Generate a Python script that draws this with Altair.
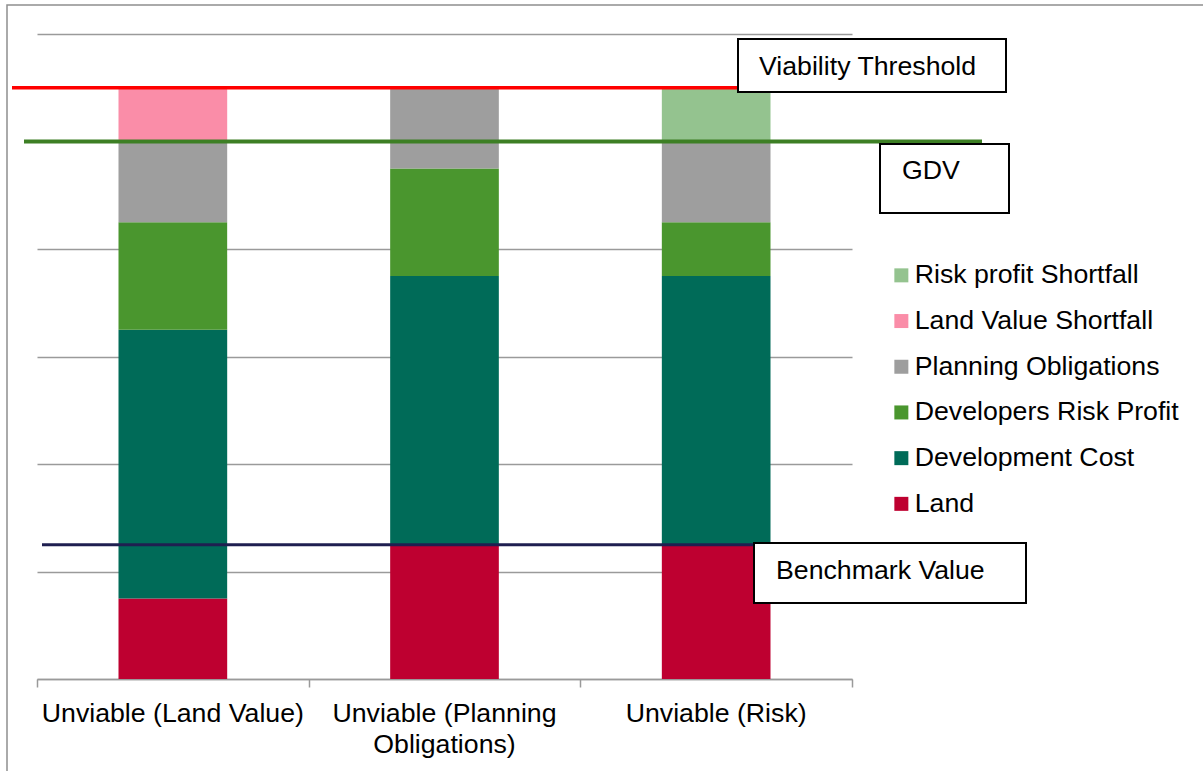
import altair as alt
import pandas as pd

FONT = "Liberation Sans"
FS = 26.7

# ---- data ----
categories = ["Unviable (Land Value)", "Unviable (Planning\nObligations)", "Unviable (Risk)"]
category_centers = [0.5, 1.5, 2.5]
x_boundaries = [0, 1, 2, 3]
y_ticks = [0, 100, 200, 300, 400, 500, 600]

stack_order = ["Land", "Development Cost", "Developers Risk Profit",
               "Planning Obligations", "Land Value Shortfall", "Risk profit Shortfall"]
land = [75, 125, 125]
development_cost = [250, 250, 250]
developers_risk_profit = [100, 100, 50]
planning_obligations = [75, 75, 75]
land_value_shortfall = [50, 0, 0]
risk_profit_shortfall = [0, 0, 50]

legend_order = ["Risk profit Shortfall", "Land Value Shortfall", "Planning Obligations",
                "Developers Risk Profit", "Development Cost", "Land"]
legend_colors = ["#94C38F", "#FA8DA8", "#9E9E9E", "#4A962E", "#006B58", "#BE0030"]

viability_threshold = 550
gdv = 500
benchmark_value = 125

# ---- tables ----
series = [land, development_cost, developers_risk_profit,
          planning_obligations, land_value_shortfall, risk_profit_shortfall]
rows = []
for i, cat in enumerate(categories):
    for j, comp in enumerate(stack_order):
        v = series[j][i]
        if v > 0:
            rows.append({"cat": cat, "center": category_centers[i], "component": comp,
                         "order": j, "value": v})
bar_df = pd.DataFrame(rows)
cat_df = pd.DataFrame({"label": categories, "center": category_centers})

W, H = 815, 645

x_scale = alt.Scale(domain=[0, 3], nice=False, zero=False)
y_scale = alt.Scale(domain=[0, 600], nice=False, zero=True)
x_axis = alt.Axis(values=x_boundaries, labels=False, ticks=True, tickSize=8,
                  tickColor="#9a9a9a", tickWidth=1.5, domainColor="#9a9a9a",
                  domainWidth=1.5, grid=False, title=None)
y_axis = alt.Axis(values=y_ticks, labels=False, ticks=False, domain=False, grid=True,
                  gridColor="#9a9a9a", gridWidth=1.3, title=None)

border = alt.Chart(pd.DataFrame({"a": [0]})).mark_rect(
    filled=False, stroke="#8f8f8f", strokeWidth=1.5
).encode(x=alt.value(-30), x2=alt.value(1180), y=alt.value(-29), y2=alt.value(760))

bars = alt.Chart(bar_df).transform_stack(
    as_=["y0", "y1"], stack="value", groupby=["cat"],
    sort=[alt.SortField(field="order", order="ascending")]
).transform_calculate(
    xl="datum.center - 0.2", xr="datum.center + 0.2"
).mark_bar().encode(
    x=alt.X("xl:Q", scale=x_scale, axis=x_axis),
    x2="xr:Q",
    y=alt.Y("y0:Q", scale=y_scale, axis=y_axis),
    y2="y1:Q",
    color=alt.Color("component:N",
                    scale=alt.Scale(domain=legend_order, range=legend_colors),
                    legend=alt.Legend(title=None, orient="none", legendX=851, legendY=228,
                                      symbolType="square", symbolSize=196,
                                      symbolStrokeWidth=0, labelFont=FONT,
                                      labelFontSize=FS, labelColor="black",
                                      rowPadding=17.7, labelOffset=0, padding=0,
                                      labelLimit=400)),
)


def hline(value, color, width, x0, x1):
    return alt.Chart(pd.DataFrame({"v": [value]})).mark_rule(
        color=color, strokeWidth=width
    ).encode(y=alt.Y("v:Q", scale=y_scale, axis=y_axis), x=alt.value(x0), x2=alt.value(x1))


red_line = hline(viability_threshold, "#FF0000", 3.5, -25, 950)
gdv_line = hline(gdv, "#3D7F24", 4, -13, 945)
bench_line = hline(benchmark_value, "#1F1F50", 3, 5, 951)


def box(x0, x1, y0, y1):
    return alt.Chart(pd.DataFrame({"a": [0]})).mark_rect(
        fill="white", stroke="black", strokeWidth=2
    ).encode(x=alt.value(x0), x2=alt.value(x1), y=alt.value(y0), y2=alt.value(y1))


def label(text, x, y):
    return alt.Chart(pd.DataFrame({"t": [text]})).mark_text(
        font=FONT, fontSize=FS, color="black", align="left", baseline="alphabetic"
    ).encode(x=alt.value(x), y=alt.value(y), text="t:N")


boxes = [
    box(701, 969, 5, 58), label("Viability Threshold", 722, 41),
    box(843, 972, 110, 179), label("GDV", 865, 145),
    box(717, 989, 509, 569), label("Benchmark Value", 739, 545),
]

cat_labels = alt.Chart(cat_df).mark_text(
    font=FONT, fontSize=FS, color="black", align="center", baseline="alphabetic",
    lineBreak="\n", lineHeight=31
).encode(x=alt.X("center:Q", scale=x_scale, axis=x_axis), y=alt.value(688), text="label:N")

chart = alt.layer(
    border, bars, red_line, gdv_line, bench_line, *boxes, cat_labels
).properties(
    width=W, height=H,
    padding={"left": 37, "top": 34, "right": 351, "bottom": 92},
    autosize=alt.AutoSizeParams(type="none"),
    background="white",
).configure_view(strokeWidth=0)

chart.save("out.html", embed_options={"renderer": "svg", "actions": False})
